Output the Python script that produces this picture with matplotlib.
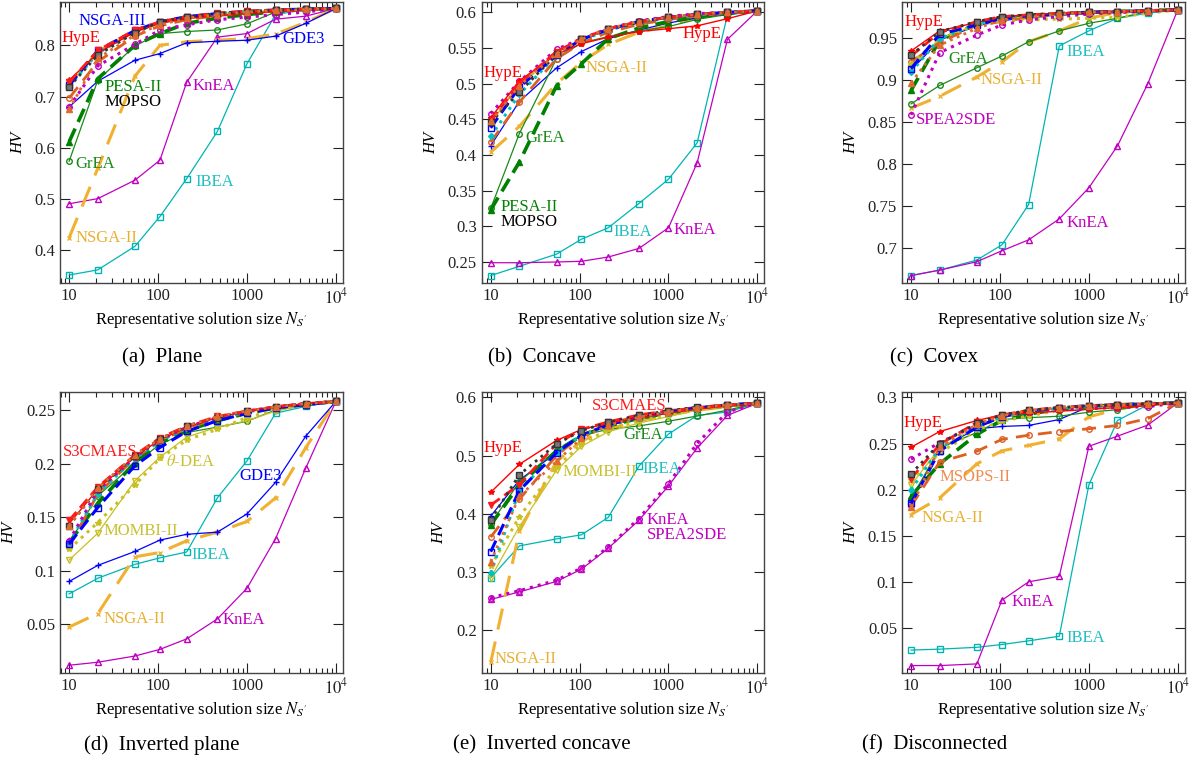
import matplotlib
matplotlib.use("Agg")
import matplotlib.pyplot as plt
from matplotlib.ticker import FixedLocator, FixedFormatter, LogLocator, NullFormatter

plt.rcParams['font.family'] = ['Liberation Serif', 'DejaVu Serif']
plt.rcParams['mathtext.fontset'] = 'stix'

# representative solution sizes
sizes = [10, 21, 55, 105, 210, 465, 1000, 2100, 4600, 10000]

plane = {
    'IBEA':     [0.352, 0.362, 0.408, 0.466, 0.540, 0.632, 0.764, 0.860, 0.870, 0.872],
    'KnEA':     [0.491, 0.501, 0.537, 0.576, 0.728, 0.816, 0.823, 0.851, 0.857, 0.872],
    'NSGA-II':  [0.425, 0.560, 0.740, 0.800, 0.807, 0.810, 0.813, 0.822, 0.845, 0.872],
    'GDE3':     [0.680, 0.730, 0.771, 0.784, 0.805, 0.808, 0.810, 0.818, 0.843, 0.872],
    'GrEA':     [0.574, 0.732, 0.799, 0.823, 0.827, 0.830, 0.842, 0.865, 0.870, 0.872],
    'PESA-II':  [0.612, 0.735, 0.800, 0.823, 0.843, 0.853, 0.860, 0.866, 0.870, 0.872],
    'MSOPS-II': [0.697, 0.768, 0.818, 0.838, 0.850, 0.858, 0.863, 0.867, 0.870, 0.872],
    'MOMBI-II': [0.725, 0.786, 0.827, 0.844, 0.854, 0.861, 0.865, 0.868, 0.870, 0.872],
    'theta-DEA':[0.723, 0.788, 0.828, 0.845, 0.855, 0.862, 0.866, 0.869, 0.871, 0.872],
    'MOEA/D':   [0.720, 0.785, 0.826, 0.845, 0.855, 0.862, 0.866, 0.869, 0.871, 0.872],
    'SPEA2SDE': [0.680, 0.760, 0.802, 0.830, 0.840, 0.850, 0.855, 0.860, 0.865, 0.872],
    'NSGA-III': [0.722, 0.790, 0.829, 0.846, 0.856, 0.862, 0.866, 0.869, 0.871, 0.872],
    'HypE':     [0.732, 0.785, 0.826, 0.843, 0.852, 0.858, 0.862, 0.866, 0.869, 0.872],
    'S3CMAES':  [0.728, 0.790, 0.830, 0.846, 0.856, 0.863, 0.867, 0.869, 0.871, 0.872],
    'MOPSO':    [0.719, 0.781, 0.825, 0.846, 0.855, 0.862, 0.866, 0.869, 0.871, 0.872],
    'SMS-EMOA': [0.675, 0.775, 0.820, 0.840, 0.853, 0.860, 0.865, 0.868, 0.870, 0.872],
}

concave = {
    'IBEA':     [0.231, 0.244, 0.261, 0.282, 0.298, 0.332, 0.366, 0.417, 0.596, 0.602],
    'KnEA':     [0.249, 0.249, 0.250, 0.251, 0.257, 0.269, 0.298, 0.389, 0.562, 0.602],
    'NSGA-II':  [0.404, 0.440, 0.500, 0.530, 0.555, 0.572, 0.581, 0.593, 0.599, 0.602],
    'GDE3':     [0.413, 0.475, 0.522, 0.545, 0.563, 0.575, 0.585, 0.592, 0.598, 0.602],
    'GrEA':     [0.325, 0.430, 0.535, 0.557, 0.566, 0.574, 0.580, 0.590, 0.597, 0.602],
    'PESA-II':  [0.323, 0.390, 0.497, 0.528, 0.563, 0.578, 0.587, 0.594, 0.598, 0.602],
    'MSOPS-II': [0.418, 0.474, 0.535, 0.557, 0.572, 0.583, 0.590, 0.595, 0.599, 0.602],
    'MOMBI-II': [0.445, 0.499, 0.543, 0.562, 0.576, 0.586, 0.592, 0.596, 0.600, 0.602],
    'theta-DEA':[0.443, 0.497, 0.545, 0.562, 0.576, 0.587, 0.593, 0.597, 0.600, 0.602],
    'MOEA/D':   [0.426, 0.485, 0.540, 0.561, 0.575, 0.586, 0.592, 0.596, 0.600, 0.602],
    'SPEA2SDE': [0.458, 0.503, 0.548, 0.563, 0.577, 0.588, 0.594, 0.598, 0.600, 0.602],
    'NSGA-III': [0.438, 0.495, 0.540, 0.562, 0.576, 0.587, 0.593, 0.597, 0.600, 0.602],
    'HypE':     [0.452, 0.504, 0.541, 0.556, 0.565, 0.573, 0.577, 0.581, 0.591, 0.602],
    'S3CMAES':  [0.448, 0.500, 0.545, 0.563, 0.577, 0.587, 0.593, 0.597, 0.600, 0.602],
    'MOPSO':    [0.446, 0.488, 0.541, 0.562, 0.576, 0.586, 0.593, 0.597, 0.600, 0.602],
    'SMS-EMOA': [0.447, 0.497, 0.542, 0.562, 0.577, 0.587, 0.593, 0.597, 0.600, 0.602],
}

convex = {
    'IBEA':     [0.6675, 0.674, 0.686, 0.704, 0.752, 0.941, 0.959, 0.974, 0.980, 0.984],
    'KnEA':     [0.6675, 0.674, 0.684, 0.697, 0.710, 0.735, 0.772, 0.822, 0.896, 0.984],
    'NSGA-II':  [0.867, 0.881, 0.904, 0.922, 0.946, 0.959, 0.974, 0.981, 0.983, 0.984],
    'GDE3':     [0.912, 0.948, 0.965, 0.971, 0.975, 0.978, 0.980, 0.981, 0.983, 0.984],
    'GrEA':     [0.872, 0.894, 0.915, 0.929, 0.946, 0.959, 0.968, 0.974, 0.982, 0.984],
    'PESA-II':  [0.888, 0.948, 0.967, 0.974, 0.977, 0.979, 0.981, 0.982, 0.983, 0.984],
    'MSOPS-II': [0.922, 0.945, 0.966, 0.970, 0.975, 0.978, 0.980, 0.981, 0.983, 0.984],
    'MOMBI-II': [0.915, 0.950, 0.966, 0.973, 0.976, 0.978, 0.980, 0.981, 0.982, 0.984],
    'theta-DEA':[0.920, 0.950, 0.966, 0.971, 0.972, 0.973, 0.974, 0.975, 0.980, 0.984],
    'MOEA/D':   [0.910, 0.950, 0.967, 0.974, 0.977, 0.979, 0.981, 0.982, 0.983, 0.984],
    'SPEA2SDE': [0.859, 0.933, 0.954, 0.966, 0.972, 0.976, 0.979, 0.981, 0.982, 0.984],
    'NSGA-III': [0.914, 0.955, 0.966, 0.974, 0.977, 0.979, 0.981, 0.982, 0.983, 0.984],
    'HypE':     [0.935, 0.959, 0.969, 0.976, 0.978, 0.980, 0.981, 0.982, 0.983, 0.984],
    'S3CMAES':  [0.929, 0.957, 0.970, 0.976, 0.978, 0.980, 0.981, 0.982, 0.983, 0.984],
    'MOPSO':    [0.930, 0.958, 0.970, 0.976, 0.978, 0.980, 0.981, 0.982, 0.983, 0.984],
    'SMS-EMOA': [0.897, 0.942, 0.962, 0.972, 0.976, 0.979, 0.981, 0.982, 0.983, 0.984],
}

inv_plane = {
    'IBEA':     [0.0784, 0.093, 0.106, 0.112, 0.1175, 0.168, 0.2025, 0.247, 0.2534, 0.258],
    'KnEA':     [0.0118, 0.0146, 0.0204, 0.0266, 0.0364, 0.055, 0.0836, 0.130, 0.196, 0.258],
    'NSGA-II':  [0.0475, 0.060, 0.113, 0.117, 0.128, 0.136, 0.146, 0.168, 0.215, 0.258],
    'GDE3':     [0.090, 0.105, 0.118, 0.1286, 0.134, 0.136, 0.153, 0.1825, 0.2257, 0.258],
    'GrEA':     [0.126, 0.170, 0.200, 0.218, 0.229, 0.234, 0.2395, 0.250, 0.254, 0.258],
    'PESA-II':  [0.126, 0.163, 0.201, 0.219, 0.231, 0.240, 0.247, 0.252, 0.255, 0.258],
    'MSOPS-II': [0.122, 0.172, 0.205, 0.221, 0.233, 0.242, 0.248, 0.253, 0.256, 0.258],
    'MOMBI-II': [0.110, 0.135, 0.184, 0.206, 0.2247, 0.234, 0.240, 0.249, 0.255, 0.258],
    'theta-DEA':[0.120, 0.145, 0.180, 0.205, 0.222, 0.232, 0.243, 0.250, 0.255, 0.258],
    'MOEA/D':   [0.126, 0.172, 0.205, 0.221, 0.233, 0.242, 0.248, 0.253, 0.255, 0.258],
    'SPEA2SDE': [0.128, 0.175, 0.206, 0.222, 0.234, 0.243, 0.249, 0.253, 0.256, 0.258],
    'NSGA-III': [0.125, 0.159, 0.198, 0.215, 0.230, 0.240, 0.247, 0.252, 0.255, 0.258],
    'HypE':     [0.144, 0.176, 0.207, 0.222, 0.234, 0.243, 0.249, 0.253, 0.256, 0.258],
    'S3CMAES':  [0.147, 0.178, 0.208, 0.224, 0.235, 0.244, 0.249, 0.253, 0.256, 0.258],
    'MOPSO':    [0.142, 0.176, 0.207, 0.223, 0.235, 0.243, 0.249, 0.253, 0.256, 0.258],
    'SMS-EMOA': [0.142, 0.177, 0.208, 0.223, 0.235, 0.244, 0.249, 0.253, 0.256, 0.258],
}

inv_concave = {
    'IBEA':     [0.290, 0.345, 0.357, 0.364, 0.394, 0.482, 0.537, 0.569, 0.575, 0.590],
    'KnEA':     [0.253, 0.266, 0.284, 0.305, 0.341, 0.389, 0.448, 0.513, 0.569, 0.590],
    'NSGA-II':  [0.145, 0.370, 0.490, 0.525, 0.545, 0.560, 0.570, 0.578, 0.584, 0.590],
    'GDE3':     [0.396, 0.458, 0.505, 0.535, 0.552, 0.564, 0.573, 0.580, 0.586, 0.590],
    'GrEA':     [0.383, 0.455, 0.510, 0.535, 0.545, 0.551, 0.559, 0.568, 0.578, 0.590],
    'PESA-II':  [0.381, 0.450, 0.508, 0.534, 0.551, 0.564, 0.573, 0.580, 0.586, 0.590],
    'MSOPS-II': [0.360, 0.425, 0.500, 0.535, 0.555, 0.568, 0.577, 0.583, 0.587, 0.590],
    'MOMBI-II': [0.290, 0.378, 0.475, 0.516, 0.541, 0.556, 0.567, 0.578, 0.584, 0.590],
    'theta-DEA':[0.310, 0.395, 0.480, 0.520, 0.545, 0.560, 0.570, 0.580, 0.585, 0.590],
    'MOEA/D':   [0.298, 0.440, 0.505, 0.535, 0.552, 0.565, 0.574, 0.581, 0.586, 0.590],
    'SPEA2SDE': [0.256, 0.268, 0.286, 0.307, 0.343, 0.392, 0.452, 0.521, 0.575, 0.590],
    'NSGA-III': [0.335, 0.440, 0.505, 0.535, 0.553, 0.566, 0.575, 0.582, 0.587, 0.590],
    'HypE':     [0.437, 0.485, 0.526, 0.545, 0.555, 0.565, 0.573, 0.580, 0.585, 0.590],
    'S3CMAES':  [0.415, 0.450, 0.520, 0.545, 0.558, 0.570, 0.577, 0.582, 0.587, 0.590],
    'MOPSO':    [0.390, 0.467, 0.520, 0.543, 0.557, 0.569, 0.577, 0.583, 0.587, 0.590],
    'SMS-EMOA': [0.318, 0.430, 0.490, 0.530, 0.552, 0.566, 0.575, 0.582, 0.587, 0.590],
}

disconnected = {
    'IBEA':     [0.026, 0.027, 0.029, 0.032, 0.036, 0.041, 0.205, 0.275, 0.292, 0.294],
    'KnEA':     [0.0092, 0.0092, 0.011, 0.080, 0.100, 0.106, 0.247, 0.258, 0.270, 0.294],
    'NSGA-II':  [0.173, 0.191, 0.228, 0.242, 0.248, 0.255, 0.279, 0.287, 0.293, 0.294],
    'GDE3':     [0.187, 0.245, 0.266, 0.2685, 0.2696, 0.276, 0.290, 0.292, 0.293, 0.294],
    'GrEA':     [0.190, 0.245, 0.262, 0.276, 0.278, 0.2796, 0.284, 0.2867, 0.292, 0.294],
    'PESA-II':  [0.193, 0.228, 0.260, 0.275, 0.282, 0.287, 0.290, 0.292, 0.293, 0.294],
    'MSOPS-II': [0.182, 0.230, 0.2416, 0.2545, 0.259, 0.263, 0.266, 0.2696, 0.277, 0.294],
    'MOMBI-II': [0.205, 0.245, 0.268, 0.278, 0.284, 0.288, 0.290, 0.292, 0.293, 0.294],
    'theta-DEA':[0.210, 0.240, 0.265, 0.274, 0.280, 0.286, 0.289, 0.291, 0.293, 0.294],
    'MOEA/D':   [0.200, 0.245, 0.268, 0.279, 0.284, 0.288, 0.290, 0.292, 0.293, 0.294],
    'SPEA2SDE': [0.233, 0.251, 0.270, 0.280, 0.285, 0.287, 0.288, 0.289, 0.290, 0.294],
    'NSGA-III': [0.185, 0.242, 0.268, 0.279, 0.285, 0.289, 0.291, 0.292, 0.293, 0.294],
    'HypE':     [0.246, 0.263, 0.275, 0.281, 0.283, 0.285, 0.287, 0.289, 0.291, 0.294],
    'S3CMAES':  [0.212, 0.249, 0.273, 0.281, 0.286, 0.289, 0.291, 0.292, 0.293, 0.294],
    'MOPSO':    [0.217, 0.250, 0.272, 0.281, 0.286, 0.289, 0.291, 0.292, 0.293, 0.294],
    'SMS-EMOA': [0.181, 0.246, 0.271, 0.280, 0.286, 0.289, 0.291, 0.292, 0.293, 0.294],
}

# text labels inside each panel: (name, x, y)
plane_labels = [('NSGA-III', 12.6, 0.847), ('HypE', 8.3, 0.814), ('PESA-II', 24.7, 0.718),
                ('MOPSO', 24.7, 0.689), ('GrEA', 11.7, 0.568), ('NSGA-II', 11.7, 0.424),
                ('IBEA', 260, 0.533), ('KnEA', 247, 0.720), ('GDE3', 2530, 0.812)]
concave_labels = [('HypE', 8.4, 0.5155), ('HypE', 1450, 0.569), ('NSGA-II', 117, 0.522),
                  ('GrEA', 24.4, 0.424), ('PESA-II', 12.9, 0.327), ('MOPSO', 12.9, 0.3066),
                  ('IBEA', 243, 0.292), ('KnEA', 1140, 0.295)]
convex_labels = [('HypE', 8.5, 0.970), ('GrEA', 26.2, 0.925), ('NSGA-II', 61, 0.900),
                 ('SPEA2SDE', 11.4, 0.853), ('IBEA', 558, 0.934), ('KnEA', 558, 0.730)]
inv_plane_labels = [('S3CMAES', 8.5, 0.211), ('theta-DEA', 123, 0.2016), ('GDE3', 824, 0.188),
                    ('MOMBI-II', 24.1, 0.137), ('IBEA', 237, 0.1147), ('NSGA-II', 24.3, 0.0552),
                    ('KnEA', 537, 0.0543)]
inv_concave_labels = [('S3CMAES', 136, 0.585), ('HypE', 8.4, 0.513), ('GrEA', 310, 0.5356),
                      ('MOMBI-II', 64.4, 0.472), ('IBEA', 505, 0.4774), ('KnEA', 573, 0.390),
                      ('SPEA2SDE', 573, 0.3644), ('NSGA-II', 11.1, 0.1514)]
disconnected_labels = [('HypE', 8.2, 0.2724), ('MSOPS-II', 20.8, 0.214), ('NSGA-II', 13.2, 0.1693),
                       ('KnEA', 135, 0.0777), ('IBEA', 558, 0.0396)]

captions = ['(a)  Plane', '(b)  Concave', '(c)  Covex',
            '(d)  Inverted plane', '(e)  Inverted concave', '(f)  Disconnected']

# line styles per algorithm
styles = {
    'IBEA':      dict(color='#00b4b4', ls='-', lw=0.9, marker='s', ms=4, mfc='none'),
    'KnEA':      dict(color='#c000c0', ls='-', lw=0.9, marker='^', ms=4, mfc='none'),
    'NSGA-II':   dict(color='#f0b030', ls=(0, (7, 4)), lw=2.2, marker='x', ms=3),
    'GDE3':      dict(color='#0000ff', ls='-', lw=0.9, marker='+', ms=4),
    'GrEA':      dict(color='#1a8a1a', ls='-', lw=0.9, marker='o', ms=4, mfc='none'),
    'PESA-II':   dict(color='#008000', ls=(0, (4, 2)), lw=2.6, marker='^', ms=4),
    'MSOPS-II':  dict(color='#dd5f22', ls=(0, (5, 3)), lw=2.0, marker='o', ms=4, mfc='none'),
    'MOMBI-II':  dict(color='#c8c020', ls='-', lw=0.9, marker='v', ms=4, mfc='none'),
    'theta-DEA': dict(color='#c8c020', ls=':', lw=2.2, marker='*', ms=4),
    'MOEA/D':    dict(color='#00c0c0', ls=':', lw=2.2, marker='D', ms=3),
    'SPEA2SDE':  dict(color='#c000c0', ls=':', lw=2.2, marker='o', ms=4, mfc='none'),
    'NSGA-III':  dict(color='#0000ff', ls=(0, (4, 2)), lw=2.2, marker='s', ms=4, mfc='none'),
    'HypE':      dict(color='#ff0000', ls='-', lw=1.0, marker='*', ms=4),
    'S3CMAES':   dict(color='#ff1a1a', ls=(0, (4, 2)), lw=2.0, marker='v', ms=4),
    'MOPSO':     dict(color='#333333', ls=':', lw=2.0, marker='s', ms=4, mfc='#777777'),
    'SMS-EMOA':  dict(color='#e06a30', ls=':', lw=2.0, marker='^', ms=4),
}
label_colors = {'MOPSO': 'black', 'NSGA-II': '#e8b030', 'MSOPS-II': '#f08a50',
                'MOMBI-II': '#c8c030', 'theta-DEA': '#c8c030', 'IBEA': '#20c0c0'}

panels = [
    (plane, plane_labels, (0.337, 0.884), [0.4, 0.5, 0.6, 0.7, 0.8]),
    (concave, concave_labels, (0.221, 0.614), [0.25, 0.3, 0.35, 0.4, 0.45, 0.5, 0.55, 0.6]),
    (convex, convex_labels, (0.659, 0.993), [0.7, 0.75, 0.8, 0.85, 0.9, 0.95]),
    (inv_plane, inv_plane_labels, (0.0047, 0.2664), [0.05, 0.1, 0.15, 0.2, 0.25]),
    (inv_concave, inv_concave_labels, (0.127, 0.6085), [0.2, 0.3, 0.4, 0.5, 0.6]),
    (disconnected, disconnected_labels, (0.0013, 0.3054), [0.05, 0.1, 0.15, 0.2, 0.25, 0.3]),
]

fig = plt.figure(figsize=(12.01, 7.62), dpi=100)
lefts = [0.050, 0.401, 0.751]
bottoms = [0.629, 0.117]
caption_x = [0.135, 0.451, 0.778]
caption_y = [0.530, 0.022]

for i, (data, labels, ylim, yticks) in enumerate(panels):
    r, c = divmod(i, 3)
    ax = fig.add_axes([lefts[c], bottoms[r], 0.2355, 0.368])
    for name, vals in data.items():
        ax.plot(sizes, vals, **styles[name])
    for name, x, y in labels:
        txt = r'$\theta$-DEA' if name == 'theta-DEA' else name
        col = label_colors.get(name, styles[name]['color'])
        ax.text(x, y, txt, color=col, fontsize=12, ha='left', va='center')

    ax.set_xscale('log')
    ax.set_xlim(7.9, 1.2e4)
    ax.set_ylim(*ylim)
    ax.xaxis.set_major_locator(FixedLocator([10, 100, 1000, 10000]))
    ax.xaxis.set_major_formatter(FixedFormatter(['10', '100', '1000', r'$10^4$']))
    ax.xaxis.set_minor_locator(LogLocator(base=10, subs=range(2, 10)))
    ax.xaxis.set_minor_formatter(NullFormatter())
    ax.set_yticks(yticks)
    ax.set_yticklabels(['%g' % t for t in yticks])
    ax.tick_params(which='both', direction='in', top=True, right=True, labelsize=12,
                   colors='#222222')
    ax.tick_params(which='major', length=7, width=0.8)
    ax.tick_params(which='minor', length=3.5, width=0.8)
    for sp in ax.spines.values():
        sp.set_color('#444444')
        sp.set_linewidth(1.0)
    ax.set_xlabel(r"Representative solution size $N_{S'}$", fontsize=12, labelpad=2)
    ax.set_ylabel('HV', fontsize=12, style='italic', labelpad=6)

    fig.text(caption_x[c], caption_y[r], captions[i], fontsize=15, ha='center', va='center')

fig.savefig('out.png', dpi=100)
